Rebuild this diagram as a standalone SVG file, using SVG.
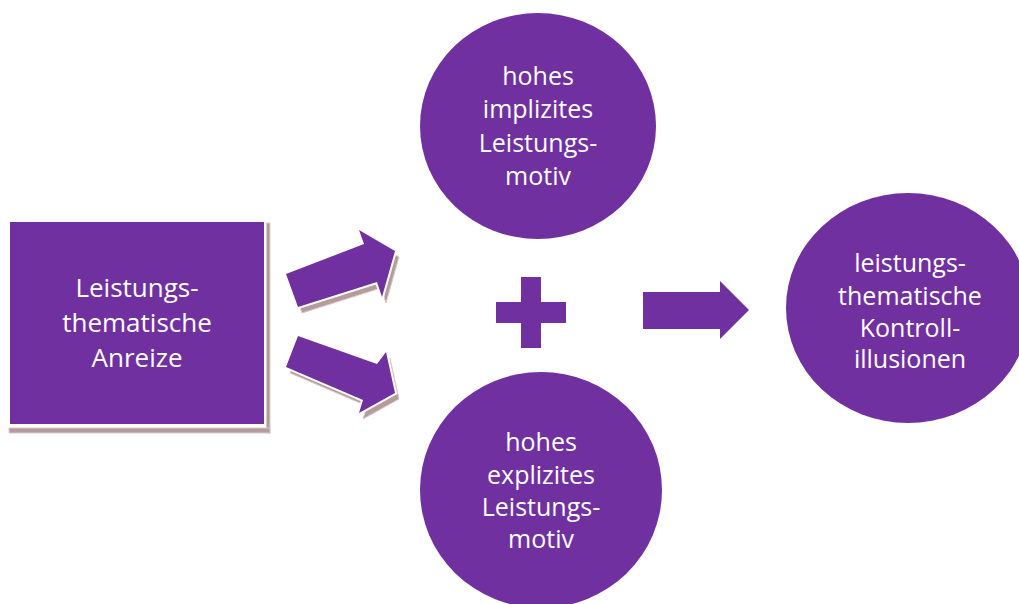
<svg xmlns="http://www.w3.org/2000/svg" width="1019" height="604" viewBox="0 0 1019 604">
  <style>
    .shape { fill: #7030A0; }
    .cut { fill: #7030A0; stroke: #ffffff; stroke-width: 4; stroke-linejoin: miter; paint-order: stroke; }
    .shade { fill: #b59c9c; stroke: #dcc9c9; stroke-width: 1; }
    .label { font-family: "Open Sans", "Liberation Sans", sans-serif; font-size: 25px; fill: #ffffff; text-anchor: middle; }
    .big { font-size: 26px; }
  </style>
  <rect width="1019" height="604" fill="#ffffff"/>

  <!-- Stimulus box with stacked-paper shadow -->
  <g id="node-anreize">
    <rect class="shade" x="266.5" y="223" width="3.5" height="210"/>
    <rect class="shade" x="9" y="428" width="261" height="5"/>
    <rect class="shape" x="10" y="222" width="254" height="202"/>
    <text class="label big" x="137" y="297">Leistungs-</text>
    <text class="label big" x="137" y="332">thematische</text>
    <text class="label big" x="137" y="367">Anreize</text>
  </g>

  <g id="node-implizit">
    <ellipse class="shape" cx="538" cy="126" rx="118" ry="113"/>
    <text class="label" x="538" y="85">hohes</text>
    <text class="label" x="538" y="118">implizites</text>
    <text class="label" x="538" y="152">Leistungs-</text>
    <text class="label" x="538" y="185">motiv</text>
  </g>

  <g id="node-explizit">
    <ellipse class="shape" cx="541" cy="490" rx="121" ry="118"/>
    <text class="label" x="541" y="451">hohes</text>
    <text class="label" x="541" y="484">explizites</text>
    <text class="label" x="541" y="516">Leistungs-</text>
    <text class="label" x="541" y="548">motiv</text>
  </g>

  <g id="node-kontrollillusionen">
    <ellipse class="shape" cx="908" cy="308" rx="122" ry="115"/>
    <text class="label" x="910" y="272">leistungs-</text>
    <text class="label" x="910" y="305">thematische</text>
    <text class="label" x="910" y="337">Kontroll-</text>
    <text class="label" x="910" y="368">illusionen</text>
  </g>

  <g id="node-plus">
    <rect class="shape" x="521" y="277" width="20" height="71"/>
    <rect class="shape" x="496" y="302" width="70" height="21"/>
  </g>

  <!-- Block arrows between the nodes -->
  <g id="connectors">
    <g id="arrow-up">
      <polygon class="shade" transform="translate(4,6)" points="286,274 364,244 359,230 395,251 382,297 377,282 298,307"/>
      <polygon class="cut" points="286,274 364,244 359,230 395,251 382,297 377,282 298,307"/>
    </g>
    <g id="arrow-down">
      <polygon class="shade" transform="translate(4,6)" points="298,336 377,364 386,352 395,393 359,413 363,400 286,367"/>
      <polygon class="cut" points="298,336 377,364 386,352 395,393 359,413 363,400 286,367"/>
    </g>
    <polygon id="arrow-result" class="shape" points="643,292 720,292 720,281 749,310 720,339 720,329 643,329"/>
  </g>
</svg>
